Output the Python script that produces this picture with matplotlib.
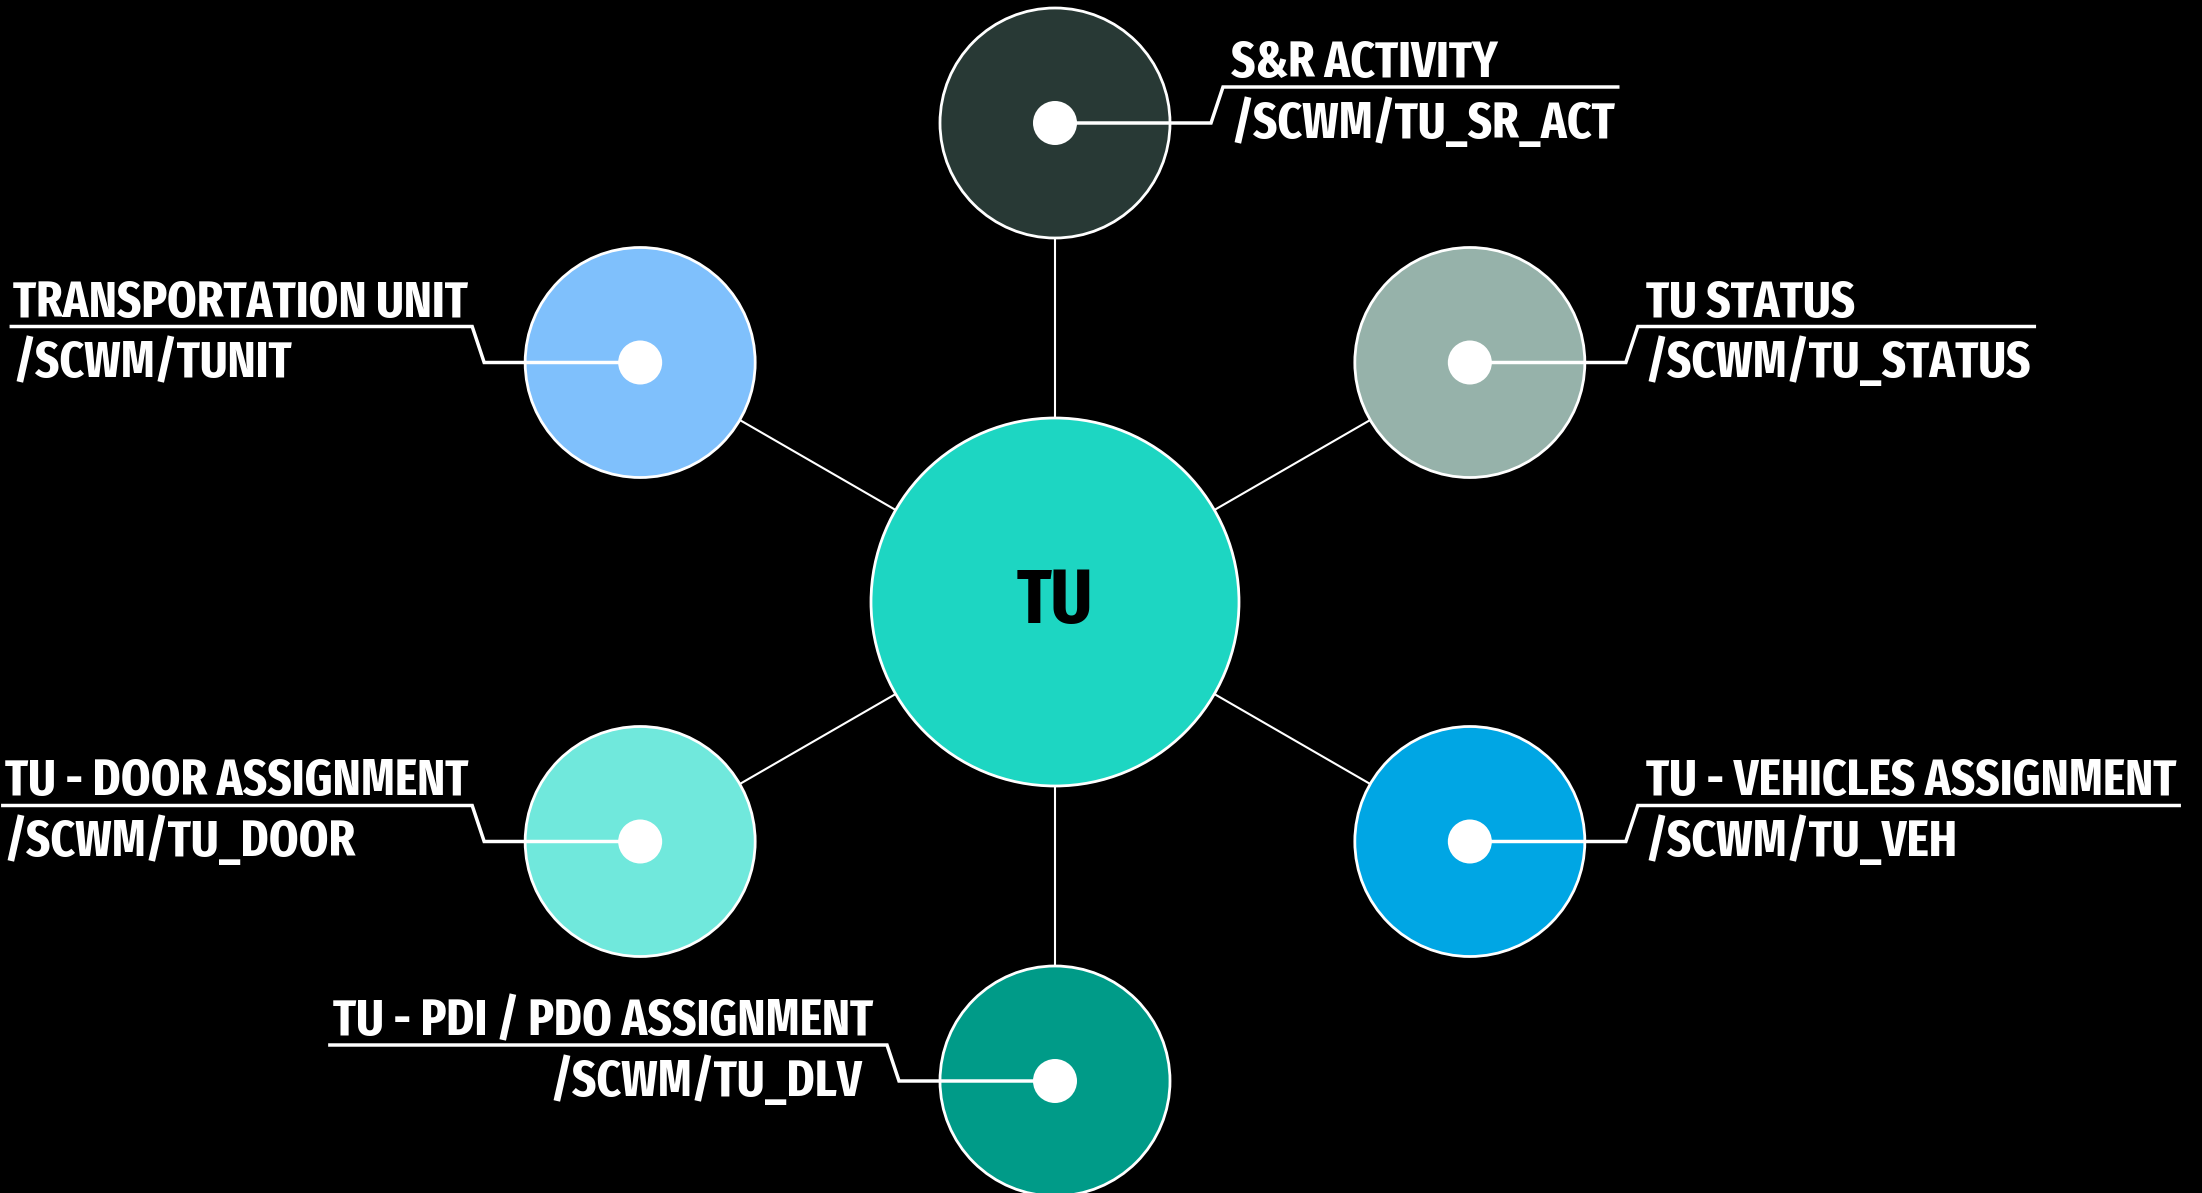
import numpy as np
import matplotlib.pyplot as plt
from matplotlib.patches import Circle
from matplotlib import font_manager as fm

# Hub
hub_label = "TU"
hub_color = "#1dd6c2"

# Spokes (clockwise from top)
titles = ["S&R ACTIVITY", "TU STATUS", "TU - VEHICLES ASSIGNMENT",
          "TU - PDI / PDO ASSIGNMENT", "TU - DOOR ASSIGNMENT", "TRANSPORTATION UNIT"]
codes = ["/SCWM/TU_SR_ACT", "/SCWM/TU_STATUS", "/SCWM/TU_VEH",
         "/SCWM/TU_DLV", "/SCWM/TU_DOOR", "/SCWM/TUNIT"]
colors = ["#283935", "#96b2aa", "#00a6e4", "#009b88", "#70e8dc", "#7fc0fc"]
angles = [90, 30, -30, -90, -150, 150]
sides = ["right", "right", "right", "bottom", "left", "left"]
# title widths in the reference (px), used to size the font
title_w = [254, 202, 518, 525, 442, 437]

# Layout (pixels)
W, H = 2202, 1193
cx, cy = 1055, 602
R_hub, R_sat, R_dot, dist = 184, 115, 22, 479
knee, slant_dx, slant_dy = 156, 12, 36


def pick_font():
    # narrowest bold upright face available
    best = None
    for f in fm.fontManager.ttflist:
        key = (f.name + " " + str(f.stretch) + " " + f.fname).lower()
        if f.style != "normal" or f.weight not in (700, "bold"):
            continue
        if "extracondensed" in key or "extra condensed" in key:
            rank = 0
        elif "semicondensed" in key or "semi condensed" in key:
            rank = 2
        elif "condensed" in key or "narrow" in key:
            rank = 1
        else:
            continue
        if best is None or rank < best[0]:
            best = (rank, f.fname)
    if best:
        return fm.FontProperties(fname=best[1])
    return fm.FontProperties(family="DejaVu Sans", weight="bold")


fp = pick_font()

fig = plt.figure(figsize=(W / 100, H / 100), dpi=100, facecolor="black")
ax = fig.add_axes([0, 0, 1, 1])
ax.set_xlim(0, W)
ax.set_ylim(H, 0)
ax.set_aspect("equal")
ax.axis("off")
ax.set_facecolor("black")

renderer = fig.canvas.get_renderer()


def span(t):
    bb = t.get_window_extent(renderer)
    inv = ax.transData.inverted()
    (x0, _), (x1, _) = inv.transform([(bb.x0, 0), (bb.x1, 0)])
    return min(x0, x1), max(x0, x1)


# font size so the titles are about as wide as in the reference
ratios = []
for title, tw in zip(titles, title_w):
    t = ax.text(0, 0, title, fontproperties=fp, fontsize=30)
    a0, a1 = span(t)
    ratios.append(tw / (a1 - a0))
    t.remove()
fs = 30 * min(ratios) * 1.05
cap = fs * 100 / 72 * 0.72

# hub
ax.add_patch(Circle((cx, cy), R_hub, facecolor=hub_color, edgecolor="white", lw=2, zorder=2))
ax.text(cx, cy, hub_label, ha="center", va="center", fontsize=fs * 1.5,
        fontproperties=fp, color="black", zorder=5)

for title, code, col, ang, side in zip(titles, codes, colors, angles, sides):
    a = np.deg2rad(ang)
    x, y = cx + dist * np.cos(a), cy - dist * np.sin(a)
    # spoke
    ax.plot([cx, x], [cy, y], color="white", lw=1.5, zorder=1)
    ax.add_patch(Circle((x, y), R_sat, facecolor=col, edgecolor="white", lw=2, zorder=2))
    ax.add_patch(Circle((x, y), R_dot, facecolor="white", edgecolor="none", zorder=4))

    d = 1 if side == "right" else -1
    kx = x + d * knee
    sx, sy = kx + d * slant_dx, y - slant_dy
    tb = sy - 10
    cb = sy + 14 + cap
    kw = dict(va="baseline", fontproperties=fp, fontsize=fs, color="white", zorder=5)
    if side == "right":
        t1 = ax.text(sx + 8, tb, title, ha="left", **kw)
        t2 = ax.text(sx + 8, cb, code, ha="left", **kw)
        end = max(span(t1)[1], span(t2)[1]) + 3
    elif side == "left":
        t1 = ax.text(sx - 4, tb, title, ha="right", **kw)
        left = span(t1)[0]
        t2 = ax.text(left, cb, code, ha="left", **kw)
        end = left - 2
    else:
        t1 = ax.text(sx - 14, tb, title, ha="right", **kw)
        t2 = ax.text(sx - 25, cb, code, ha="right", **kw)
        end = min(span(t1)[0], span(t2)[0]) - 3
    ax.plot([x, kx, sx, end], [y, y, sy, sy], color="white", lw=2.5,
            solid_joinstyle="miter", zorder=3)

fig.savefig("out.png", dpi=100, facecolor="black")
